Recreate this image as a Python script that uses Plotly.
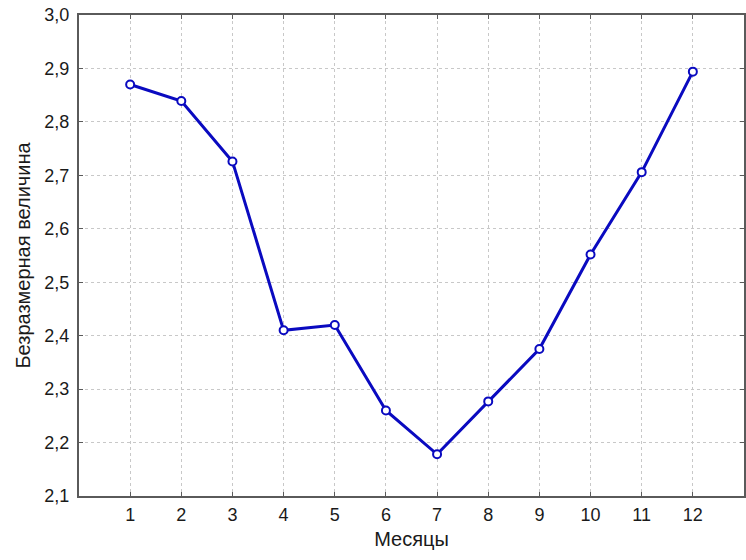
import plotly.graph_objects as go

months = [1, 2, 3, 4, 5, 6, 7, 8, 9, 10, 11, 12]
values = [2.870, 2.839, 2.726, 2.410, 2.420, 2.260, 2.178, 2.277, 2.375, 2.552, 2.706, 2.894]
x_title = "Месяцы"
y_title = "Безразмерная величина"

FONT = "Liberation Sans, Arial"

fig = go.Figure()
fig.add_trace(go.Scatter(
    x=months, y=values, mode="lines+markers",
    line=dict(color="#0a0ac0", width=3),
    marker=dict(symbol="circle", size=8, color="white",
                line=dict(color="#0a0ac0", width=2)),
    showlegend=False,
))

axis_common = dict(
    showline=True, linecolor="#5a5a5a", linewidth=2, mirror="ticks",
    ticks="inside", ticklen=4, tickcolor="#5a5a5a",
    showgrid=True, gridcolor="#c8c8c8", griddash="dot", gridwidth=1,
    zeroline=False,
    tickfont=dict(family=FONT, size=18, color="#1a1a1a"),
)

fig.update_xaxes(
    range=[0, 13], tickmode="array", tickvals=months,
    ticklabelstandoff=1,
    title=dict(text=x_title, font=dict(family=FONT, size=20, color="#1a1a1a"), standoff=8),
    **axis_common,
)
fig.update_yaxes(
    range=[2.1, 3.0], dtick=0.1, tick0=2.1, tickformat=".1f",
    ticklabelstandoff=4,
    title=dict(text=y_title, font=dict(family=FONT, size=20, color="#1a1a1a"), standoff=8),
    **axis_common,
)

fig.update_layout(
    width=746, height=560,
    margin=dict(l=79, r=0, t=15, b=64),
    paper_bgcolor="white", plot_bgcolor="white",
    separators=", ",
)

fig.write_html("out.html")
